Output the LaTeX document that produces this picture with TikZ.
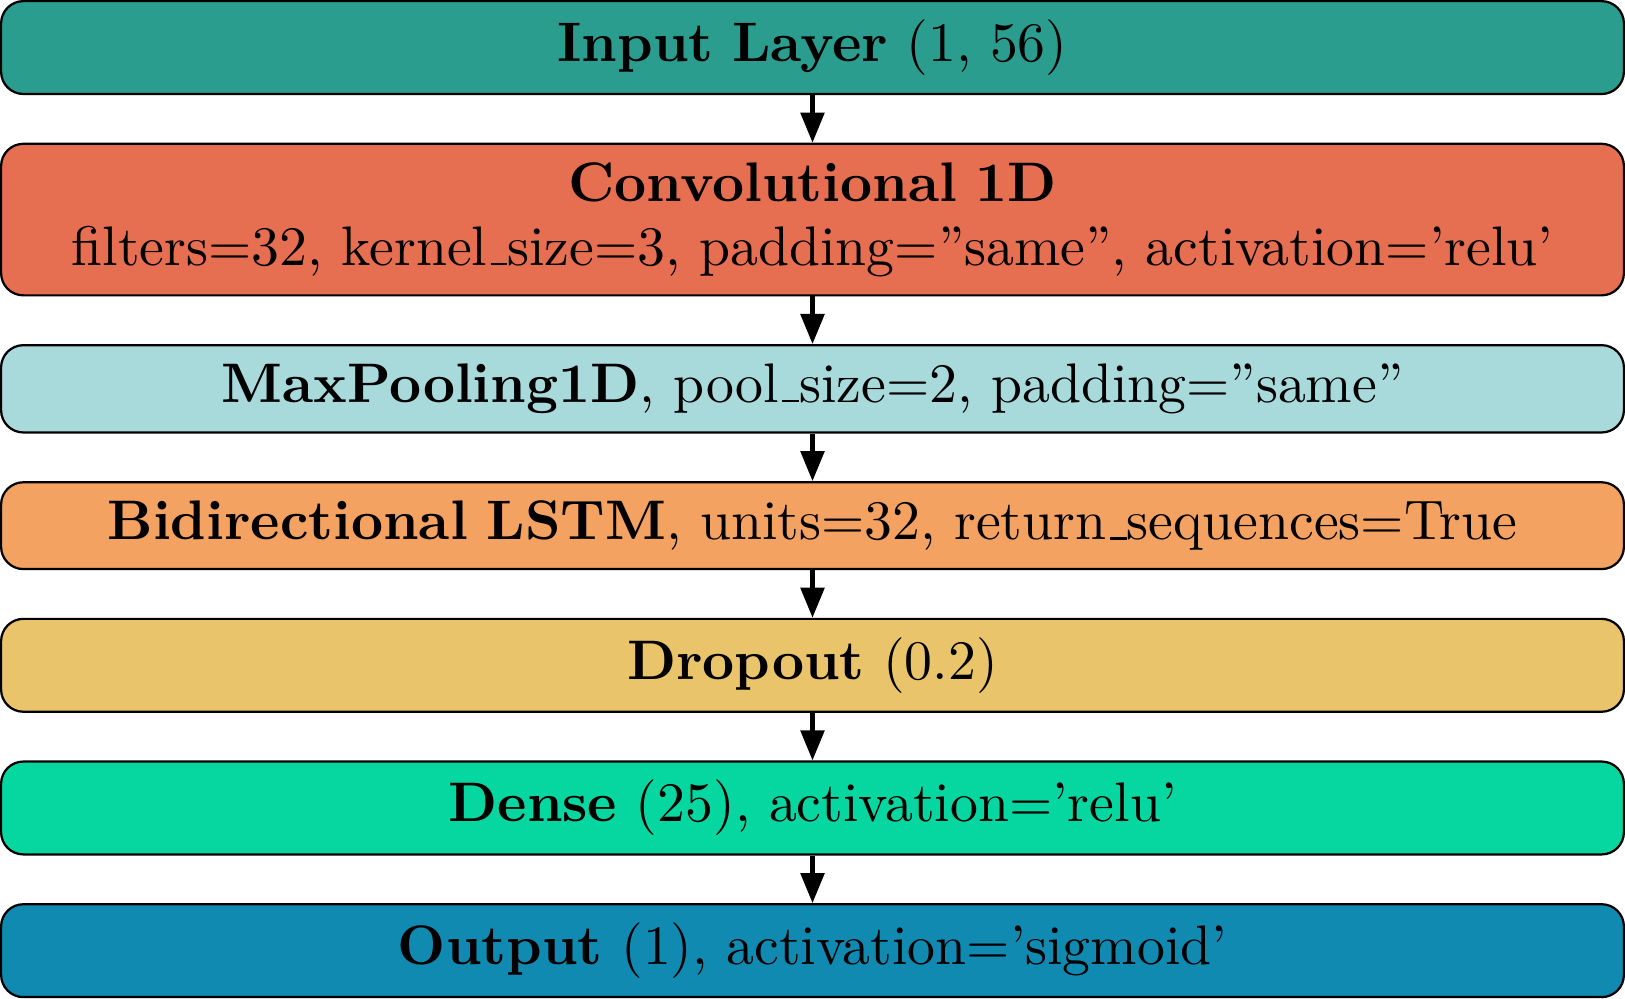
\documentclass[tikz,border=0pt]{standalone}
\usetikzlibrary{positioning,arrows.meta}
\definecolor{inputcol}{HTML}{2A9D8F}
\definecolor{convcol}{HTML}{E76F51}
\definecolor{poolcol}{HTML}{A8DADC}
\definecolor{lstmcol}{HTML}{F4A261}
\definecolor{dropcol}{HTML}{E9C46A}
\definecolor{densecol}{HTML}{06D6A0}
\definecolor{outcol}{HTML}{118AB2}
\newcommand{\usc}{\leavevmode\kern.06em\vbox{\hrule width.3em}}
\tikzset{
  layer/.style={draw, rounded corners, text width=10cm, align=center},
  flow/.style={thick, -{Triangle[length=5.4pt,width=4.2pt]}}
}
\begin{document}
\begin{tikzpicture}[node distance=0.3cm]
\node[layer, fill=inputcol] (input) {\textbf{Input Layer} (1, 56)};
\node[layer, fill=convcol, below=of input] (conv) {\textbf{Convolutional 1D}\\[-0.5pt] filters=32, kernel\usc size=3, padding=”same”, activation=’relu’};
\node[layer, fill=poolcol, below=of conv] (pool) {\textbf{MaxPooling1D}, pool\usc size=2, padding=”same”};
\node[layer, fill=lstmcol, below=of pool] (lstm) {\textbf{Bidirectional LSTM}, units=32, return\usc sequences=True};
\node[layer, fill=dropcol, below=of lstm] (drop) {\textbf{Dropout} (0.2)};
\node[layer, fill=densecol, below=of drop] (dense) {\textbf{Dense} (25), activation=’relu’};
\node[layer, fill=outcol, below=of dense] (output) {\textbf{Output} (1), activation=’sigmoid’};

\draw[flow] (input) -- (conv);
\draw[flow] (conv) -- (pool);
\draw[flow] (pool) -- (lstm);
\draw[flow] (lstm) -- (drop);
\draw[flow] (drop) -- (dense);
\draw[flow] (dense) -- (output);
\end{tikzpicture}
\end{document}
